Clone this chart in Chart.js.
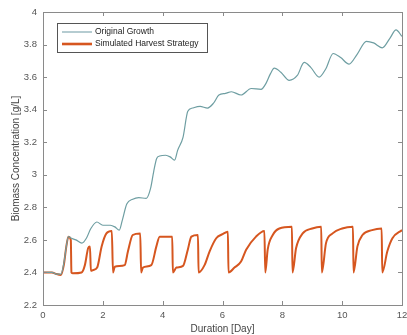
<!DOCTYPE html>
<html>
<head>
<meta charset="utf-8">
<script src="https://cdn.jsdelivr.net/npm/chart.js@4/dist/chart.umd.min.js"></script>
<style>
html,body{margin:0;padding:0;background:#fff;}
#c{display:block;}
</style>
</head>
<body>
<canvas id="c" width="407" height="335"></canvas>
<script>
// ---- Data ----
const growthDays = [0, 0.3, 0.45, 0.6, 0.7, 0.78, 0.85, 0.95, 1.1, 1.3, 1.45, 1.6, 1.8, 2.0, 2.25, 2.4, 2.55, 2.65, 2.8, 3.0, 3.2, 3.45, 3.6, 3.7, 3.8, 3.9, 4.1, 4.25, 4.4, 4.5, 4.68, 4.84, 5.0, 5.25, 5.5, 5.7, 5.88, 6.1, 6.3, 6.62, 6.96, 7.29, 7.45, 7.6, 7.73, 7.95, 8.23, 8.5, 8.73, 8.95, 9.23, 9.45, 9.7, 9.95, 10.23, 10.5, 10.81, 11.05, 11.34, 11.6, 11.8, 12.0];
const growthValues = [2.40, 2.40, 2.39, 2.39, 2.46, 2.56, 2.62, 2.61, 2.60, 2.58, 2.61, 2.67, 2.71, 2.69, 2.69, 2.68, 2.66, 2.72, 2.82, 2.85, 2.86, 2.855, 2.92, 3.02, 3.10, 3.115, 3.12, 3.11, 3.09, 3.15, 3.23, 3.39, 3.41, 3.42, 3.41, 3.44, 3.49, 3.50, 3.51, 3.49, 3.53, 3.525, 3.56, 3.62, 3.655, 3.63, 3.58, 3.61, 3.69, 3.66, 3.60, 3.65, 3.745, 3.72, 3.68, 3.74, 3.82, 3.81, 3.78, 3.84, 3.89, 3.85];

const harvestDays = [0, 0.3, 0.45, 0.6, 0.7, 0.78, 0.85, 0.93, 0.95, 1.0, 1.29, 1.4, 1.51, 1.57, 1.6, 1.68, 1.81, 1.96, 2.12, 2.3, 2.34, 2.4, 2.73, 2.84, 3.0, 3.25, 3.28, 3.34, 3.62, 3.79, 3.9, 4.32, 4.34, 4.46, 4.68, 4.84, 4.96, 5.18, 5.2, 5.4, 5.57, 5.79, 6.0, 6.18, 6.2, 6.4, 6.62, 6.79, 7.12, 7.4, 7.43, 7.51, 7.68, 7.9, 8.32, 8.34, 8.46, 8.68, 9.0, 9.3, 9.32, 9.46, 9.68, 10.0, 10.36, 10.38, 10.51, 10.68, 11.0, 11.32, 11.34, 11.51, 11.68, 12.0];
const harvestValues = [2.40, 2.40, 2.39, 2.385, 2.45, 2.56, 2.62, 2.60, 2.40, 2.395, 2.40, 2.445, 2.55, 2.56, 2.41, 2.415, 2.43, 2.56, 2.64, 2.655, 2.40, 2.435, 2.445, 2.53, 2.63, 2.64, 2.40, 2.43, 2.445, 2.56, 2.62, 2.62, 2.40, 2.43, 2.44, 2.54, 2.62, 2.63, 2.40, 2.445, 2.53, 2.61, 2.635, 2.65, 2.40, 2.43, 2.467, 2.54, 2.62, 2.655, 2.40, 2.54, 2.63, 2.67, 2.68, 2.40, 2.55, 2.64, 2.67, 2.68, 2.40, 2.58, 2.64, 2.67, 2.68, 2.40, 2.56, 2.63, 2.66, 2.67, 2.40, 2.53, 2.61, 2.66];

const seriesLabels = ['Original Growth', 'Simulated Harvest Strategy'];
const xTicks = [0, 2, 4, 6, 8, 10, 12];
const yTicks = [2.2, 2.4, 2.6, 2.8, 3, 3.2, 3.4, 3.6, 3.8, 4];
const xTitle = 'Duration [Day]';
const yTitle = 'Biomass Concentration [g/L]';

const GREEN = '#6e9ea2';
const ORANGE = '#d6561f';
const AXIS = '#8a8a8a';

Chart.defaults.font.family = "'Liberation Sans', Arial, sans-serif";
Chart.defaults.color = '#555';

const toPts = (xs, ys) => xs.map((x, i) => ({x: x, y: ys[i]}));

const frame = {
  id: 'frame',
  afterDatasetsDraw(chart) {
    const {ctx, chartArea: a, scales: {x, y}} = chart;
    ctx.save();
    ctx.strokeStyle = AXIS;
    ctx.lineWidth = 1;
    ctx.strokeRect(Math.round(a.left) + 0.5, Math.round(a.top) + 0.5, Math.round(a.right - a.left), Math.round(a.bottom - a.top));
    const L = 4;
    ctx.beginPath();
    xTicks.forEach(v => {
      const px = Math.round(x.getPixelForValue(v)) + 0.5;
      ctx.moveTo(px, a.bottom); ctx.lineTo(px, a.bottom - L);
      ctx.moveTo(px, a.top); ctx.lineTo(px, a.top + L);
    });
    yTicks.forEach(v => {
      const py = Math.round(y.getPixelForValue(v)) + 0.5;
      ctx.moveTo(a.left, py); ctx.lineTo(a.left + L, py);
      ctx.moveTo(a.right, py); ctx.lineTo(a.right - L, py);
    });
    ctx.stroke();

    // legend box
    const bx = 57.5, by = 23.5, bw = 150, bh = 29;
    ctx.fillStyle = '#fff';
    ctx.fillRect(bx, by, bw, bh);
    ctx.strokeStyle = '#555';
    ctx.strokeRect(bx, by, bw, bh);
    const rows = [{y: 32, c: '#8db0b8', w: 1.3}, {y: 44, c: ORANGE, w: 2.6}];
    ctx.font = "8.5px 'Liberation Sans', Arial, sans-serif";
    ctx.textBaseline = 'middle';
    ctx.textAlign = 'left';
    rows.forEach((r, i) => {
      ctx.strokeStyle = r.c; ctx.lineWidth = r.w;
      ctx.beginPath(); ctx.moveTo(62, r.y); ctx.lineTo(92, r.y); ctx.stroke();
      ctx.fillStyle = '#222';
      ctx.fillText(chart.data.datasets[i].label, 95, r.y);
    });
    ctx.restore();
  }
};

new Chart(document.getElementById('c'), {
  type: 'line',
  data: {
    datasets: [
      {label: seriesLabels[0], data: toPts(growthDays, growthValues), borderColor: GREEN, borderWidth: 1.2, pointRadius: 0, cubicInterpolationMode: 'monotone', fill: false},
      {label: seriesLabels[1], data: toPts(harvestDays, harvestValues), borderColor: ORANGE, borderWidth: 2, pointRadius: 0, cubicInterpolationMode: 'monotone', fill: false}
    ]
  },
  options: {
    responsive: false,
    animation: false,
    layout: {padding: {top: 12, right: 5, left: 0, bottom: 0}},
    plugins: {legend: {display: false}, tooltip: {enabled: false}},
    scales: {
      x: {
        type: 'linear', min: 0, max: 12,
        afterBuildTicks: s => { s.ticks = xTicks.map(v => ({value: v})); },
        grid: {display: false, drawTicks: false},
        border: {display: false},
        ticks: {font: {size: 9.5}, padding: 5, maxRotation: 0, color: '#555'},
        title: {display: true, text: xTitle, font: {size: 10}, padding: {top: 0, bottom: 0}, color: '#444'},
        afterFit: s => { s.height = 30; s.paddingLeft = 0; s.paddingRight = 0; }
      },
      y: {
        type: 'linear', min: 2.2, max: 4,
        afterBuildTicks: s => { s.ticks = yTicks.map(v => ({value: v})); },
        grid: {display: false, drawTicks: false},
        border: {display: false},
        ticks: {font: {size: 9.5}, padding: 6, color: '#555', callback: v => String(+v.toFixed(1))},
        title: {display: true, text: yTitle, font: {size: 10}, padding: {top: 10, bottom: 0}, color: '#444'},
        afterFit: s => { s.width = 43; s.paddingTop = 0; s.paddingBottom = 0; }
      }
    }
  },
  plugins: [frame]
});
</script>
</body>
</html>
